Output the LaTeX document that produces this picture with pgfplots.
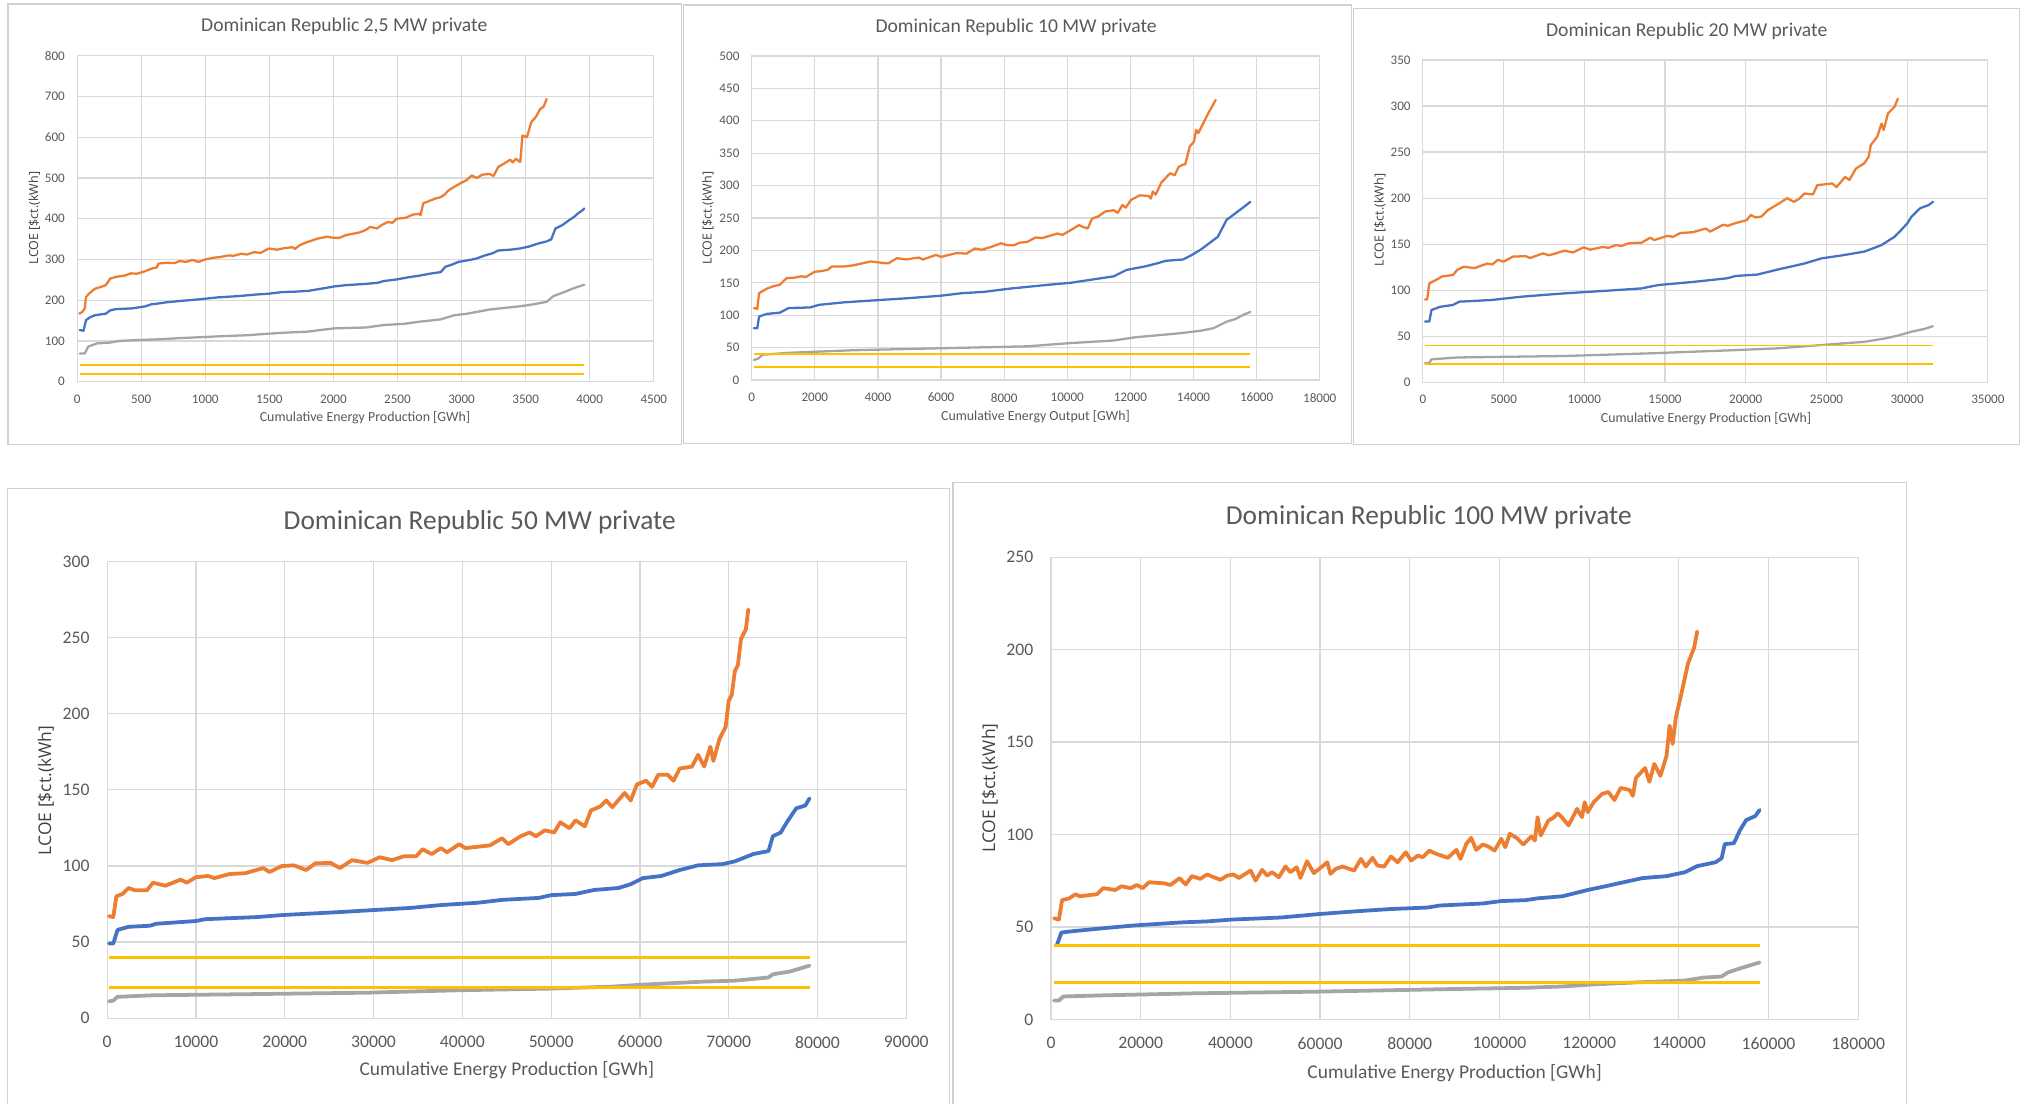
\documentclass[border=0pt]{standalone}
\usepackage{fontspec}
\setmainfont{Carlito}
\newfontfamily\ylabfont{Open Sans}
\usepackage{pgfplots}
\pgfplotsset{compat=1.18}
\definecolor{cOr}{HTML}{ED7D31}
\definecolor{cBl}{HTML}{4472C4}
\definecolor{cGr}{HTML}{A5A5A5}
\definecolor{cGo}{HTML}{FFC000}
\definecolor{gridc}{HTML}{D9D9D9}
\definecolor{framec}{HTML}{D0D0D0}
\definecolor{txtc}{HTML}{595959}
\definecolor{ylc}{HTML}{404040}
\def\U{0.65pt}
\pgfplotsset{
  drbase/.style={
    scale only axis,
    grid=major,
    major grid style={draw=gridc, line width=0.6pt},
    axis line style={draw=gridc, line width=0.6pt},
    tick style={draw=none},
    scaled ticks=false,
    /pgf/number format/assume math mode=true,
    ticklabel style={text=txtc},
    x tick label style={/pgf/number format/fixed, /pgf/number format/1000 sep={}},
    y tick label style={/pgf/number format/fixed, /pgf/number format/1000 sep={}},
    every axis plot/.append style={line join=round, line cap=round, mark=none},
  },
  drsmall/.style={drbase,
    ticklabel style={font=\fontsize{6.6}{7}\selectfont},
    yticklabel style={inner sep=0pt, xshift=-6pt},
    xticklabel style={inner sep=0pt, yshift=-6.4pt},
    every axis plot/.append style={line width=1.15pt},
    gold/.style={cGo, line width=1.0pt, line cap=butt},
  },
  drbig/.style={drbase,
    ticklabel style={font=\fontsize{8.9}{10}\selectfont},
    yticklabel style={inner sep=0pt, xshift=-8.7pt},
    xticklabel style={inner sep=0pt, yshift=-8.8pt},
    every axis plot/.append style={line width=1.9pt},
    gold/.style={cGo, line width=1.5pt, line cap=butt},
  },
}
\begin{document}
\begin{tikzpicture}
\path[use as bounding box] (0,0) rectangle ({1568*\U},{856*\U});
% frames
\draw[framec, line width=0.6pt] ({6.2*\U},{(856-344.5)*\U}) rectangle ({528.7*\U},{(856-3.1)*\U});
\draw[framec, line width=0.6pt] ({530*\U},{(856-343.7)*\U}) rectangle ({1048*\U},{(856-3.9)*\U});
\draw[framec, line width=0.6pt] ({1049.6*\U},{(856-344.5)*\U}) rectangle ({1566*\U},{(856-6.5)*\U});
\draw[framec, line width=0.6pt] ({5.7*\U},{-10*\U}) rectangle ({736*\U},{(856-379)*\U});
\draw[framec, line width=0.6pt] ({739*\U},{-10*\U}) rectangle ({1478.5*\U},{(856-374)*\U});

% ---------- Panel 1 ----------
\begin{axis}[drsmall, at={({59.8*\U},{(856-296)*\U})}, anchor=south west,
  width={(507-59.8)*\U}, height={(296-43.2)*\U},
  xmin=0, xmax=4500, ymin=0, ymax=800,
  xtick={0,500,...,4500}, ytick={0,100,...,800}]
\addplot[cOr] coordinates {(17,167)(40,171)(60,180)(69,208)(100,218)(138,228)(180,232)(224,237)(258,253)(300,257)(378,261)(420,266)(464,265)(520,270)(585,278)(620,280)(636,290)(700,292)(760,291)(800,296)(850,294)(900,299)(946,294)(1000,300)(1060,304)(1118,306)(1180,310)(1220,309)(1280,314)(1325,312)(1380,318)(1430,316)(1497,327)(1560,324)(1620,328)(1680,330)(1700,326)(1737,335)(1790,342)(1875,351)(1950,356)(2000,353)(2047,353)(2100,360)(2150,363)(2200,366)(2250,372)(2288,380)(2340,376)(2380,385)(2425,392)(2460,390)(2494,400)(2560,402)(2620,410)(2666,412)(2680,409)(2701,438)(2760,445)(2800,450)(2838,453)(2870,460)(2900,470)(2941,478)(2980,485)(3010,490)(3040,495)(3079,506)(3120,500)(3160,508)(3217,510)(3250,505)(3286,527)(3330,535)(3380,545)(3400,538)(3423,547)(3458,539)(3475,604)(3510,600)(3544,637)(3580,650)(3613,669)(3640,675)(3664,694)};
\addplot[cBl] coordinates {(20,127)(50,125)(69,151)(100,158)(138,163)(180,165)(224,167)(258,175)(300,178)(430,180)(533,185)(580,190)(636,192)(700,195)(800,198)(946,202)(1100,207)(1256,210)(1400,214)(1497,216)(1600,220)(1700,221)(1806,223)(1900,228)(2012,234)(2100,237)(2253,240)(2350,243)(2391,247)(2494,251)(2580,256)(2666,260)(2750,265)(2838,269)(2873,282)(2930,288)(2976,294)(3050,298)(3114,302)(3183,310)(3240,315)(3286,322)(3380,324)(3458,327)(3530,332)(3596,339)(3660,344)(3699,349)(3733,376)(3785,384)(3837,396)(3880,405)(3905,412)(3940,420)(3957,425)};
\addplot[cGr] coordinates {(20,69)(60,69)(86,86)(155,94)(258,96)(327,100)(450,102)(636,104)(800,107)(946,109)(1150,112)(1325,114)(1500,118)(1600,120)(1806,123)(1900,127)(2012,131)(2253,133)(2391,139)(2550,142)(2666,147)(2838,153)(2941,163)(3045,167)(3130,172)(3217,177)(3300,180)(3423,184)(3500,187)(3561,190)(3664,196)(3716,210)(3802,220)(3871,229)(3957,238)};
\addplot[gold] coordinates {(20,40)(3957,40)};
\addplot[gold] coordinates {(20,20)(3957,20)};
\end{axis}

% ---------- Panel 2 ----------
\begin{axis}[drsmall, at={({582.9*\U},{(856-294.7)*\U})}, anchor=south west,
  width={(1023.4-582.9)*\U}, height={(294.7-43.4)*\U},
  xmin=0, xmax=18000, ymin=0, ymax=500,
  xtick={0,2000,...,18000}, ytick={0,50,...,500}]
\addplot[cOr] coordinates {(69,111)(179,110)(234,134)(481,141)(700,145)(893,147)(1099,157)(1350,158)(1580,160)(1717,159)(1992,167)(2200,168)(2405,170)(2542,175)(2900,175)(3229,177)(3500,180)(3779,183)(4100,181)(4328,180)(4603,188)(4900,186)(5290,189)(5427,186)(5840,193)(6000,190)(6252,193)(6500,196)(6802,195)(7076,203)(7300,201)(7626,206)(7901,211)(8100,208)(8313,208)(8500,212)(8725,213)(9000,220)(9200,219)(9412,222)(9687,226)(9850,224)(10099,231)(10374,239)(10500,236)(10649,234)(10786,249)(11000,253)(11198,260)(11473,262)(11600,258)(11748,270)(11850,266)(12023,278)(12298,285)(12573,284)(12650,280)(12710,291)(12800,286)(12985,305)(13260,319)(13400,316)(13535,329)(13650,332)(13740,333)(13878,360)(14015,368)(14084,386)(14153,381)(14359,401)(14496,414)(14702,432)};
\addplot[cBl] coordinates {(69,80)(179,80)(234,98)(481,102)(893,104)(1168,111)(1855,112)(2130,116)(2954,120)(3916,123)(4878,126)(5977,130)(6664,134)(7351,136)(8176,141)(9412,147)(10099,150)(10649,154)(11473,160)(11885,170)(12435,175)(12847,180)(13122,184)(13672,186)(13947,193)(14222,201)(14496,211)(14771,221)(15046,247)(15321,257)(15595,267)(15801,275)};
\addplot[cGr] coordinates {(69,31)(206,33)(343,39)(1168,42)(3229,46)(5977,49)(8725,52)(10099,57)(10786,59)(11473,61)(12160,66)(12847,69)(13535,72)(14222,76)(14634,80)(15046,90)(15321,94)(15595,101)(15801,105)};
\addplot[gold] coordinates {(69,40)(15801,40)};
\addplot[gold] coordinates {(69,20)(15801,20)};
\end{axis}

% ---------- Panel 3 ----------
\begin{axis}[drsmall, at={({1103.4*\U},{(856-296.5)*\U})}, anchor=south west,
  width={(1541.5-1103.4)*\U}, height={(296.5-46.5)*\U},
  xmin=0, xmax=35000, ymin=0, ymax=350,
  xtick={0,5000,...,35000}, ytick={0,50,...,350}]
\addplot[cOr] coordinates {(133,90)(265,90)(398,107.5)(797,111)(1195,115)(1859,116.5)(2124,122)(2523,125.6)(3187,124)(3983,129)(4300,128)(4647,133)(5000,131)(5577,136.5)(6373,137)(6639,135)(7436,140)(7800,138)(8232,140)(8763,143)(9294,141)(9958,146.6)(10357,144)(11153,147)(11500,146)(11950,149)(12300,148)(12747,151)(13543,151.6)(14074,157)(14340,154.5)(15137,159)(15500,158)(15933,162)(16730,163)(17527,167)(17792,163.6)(18589,171)(18900,170)(19386,173)(20050,176)(20315,181.7)(20600,179)(20979,180)(21377,187)(22041,194)(22572,200)(22970,196)(23300,199)(23634,205)(24165,204)(24431,214)(25361,216)(25626,212)(26157,223)(26423,219.7)(26821,232)(27352,238)(27618,245)(27751,257.7)(28149,266.7)(28415,281)(28548,274)(28813,292)(29212,299)(29424,308)};
\addplot[cBl] coordinates {(133,66)(398,66)(531,78.5)(1062,82)(1859,84)(2257,87.6)(4249,89.4)(6108,93)(8763,96.6)(11419,99.5)(13543,102)(14605,105.7)(16730,109)(18854,113)(19386,115.5)(20714,117)(22041,122.7)(23634,129)(24696,134.6)(26024,138)(27352,142)(28415,149)(29212,158)(29610,165)(30009,172.6)(30274,180)(30805,189)(31336,192.5)(31601,196)};
\addplot[cGr] coordinates {(133,20.6)(398,21)(531,25)(2124,27)(8763,28.6)(14074,31.5)(19386,35)(22041,37)(24696,40.5)(27352,44)(28680,47.8)(29477,51)(30274,55)(31070,58)(31601,61)};
\addplot[gold] coordinates {(133,40)(31601,40)};
\addplot[gold] coordinates {(133,20)(31601,20)};
\end{axis}

% ---------- Panel 4 ----------
\begin{axis}[drbig, at={({83.1*\U},{(856-789.5)*\U})}, anchor=south west,
  width={(702.8-83.1)*\U}, height={(789.5-435.5)*\U},
  xmin=0, xmax=90000, ymin=0, ymax=300,
  xtick={0,10000,...,90000}, ytick={0,50,...,300}]
\addplot[cOr] coordinates {(207,67)(690,66.4)(1034,80)(1724,81.6)(2414,85.5)(3103,84)(4483,84)(5172,89)(6552,87)(8276,91)(8966,89)(10000,92.6)(11379,93.4)(12069,92)(13793,94.7)(15517,95.2)(17586,98.6)(18276,96)(19655,99.9)(21034,100.4)(22414,97.3)(23448,101.7)(25172,102)(26207,98.6)(27586,103.8)(29310,102)(30690,105.7)(32069,103.8)(33448,106.4)(34828,106.4)(35517,111)(36552,107.8)(37586,111.7)(38276,109)(39655,114.3)(40345,111.7)(43103,113.5)(44483,118.2)(45172,114.3)(46552,119.5)(47586,122)(48276,119.5)(49310,123.4)(50345,122)(51034,128.7)(52069,124.8)(52759,130)(53793,126)(54483,136.5)(55517,139)(56207,143)(56897,138.6)(58276,148)(58966,143)(59655,153.5)(60690,156)(61379,152)(62069,160)(63103,160)(63793,156)(64483,164)(65862,165.3)(66552,173)(67241,165.3)(67931,178.4)(68276,169)(68966,183.6)(69655,191.4)(70000,208.4)(70345,212.4)(70690,228)(71034,232)(71379,249)(71931,255.5)(72207,268.6)};
\addplot[cBl] coordinates {(207,49)(690,49)(1172,58)(2414,60)(4828,60.7)(5517,62)(10000,63.8)(11034,65)(16897,66.4)(19655,67.7)(26552,69.8)(30000,71)(34138,72.4)(37586,74.3)(41724,75.8)(44483,77.7)(48621,79)(50000,80.8)(52759,81.6)(54828,84.2)(57586,85.5)(58966,88)(60345,92)(62414,93.4)(64483,97.3)(66552,100.4)(69310,101.2)(70690,103)(72759,107.8)(74483,109.8)(74966,119.5)(75862,122)(76552,128.7)(77586,137.8)(78621,139.7)(79103,144.4)};
\addplot[cGr] coordinates {(207,11)(690,11.5)(1172,14)(5172,15)(15517,15.7)(29310,16.7)(39655,18.3)(50000,19.4)(56897,20.7)(60345,22)(67241,24)(70690,24.6)(74483,26.7)(74966,28.8)(76897,30.6)(79103,34.5)};
\addplot[gold] coordinates {(207,40)(79103,40)};
\addplot[gold] coordinates {(207,20)(79103,20)};
\end{axis}

% ---------- Panel 5 ----------
\begin{axis}[drbig, at={({815*\U},{(856-790.5)*\U})}, anchor=south west,
  width={(1441-815)*\U}, height={(790.5-432.1)*\U},
  xmin=0, xmax=180000, ymin=0, ymax=250,
  xtick={0,20000,40000,60000,80000,100000,120000,140000,160000,180000},
  xticklabels={0,20000,40000,60000,80000,100000,120000,140000,160000,180000},
  ytick={0,50,...,250}]
\addplot[cOr] coordinates {(683,54.7)(1775,54)(2458,64.5)(4097,65.5)(5463,67.7)(6419,66.6)(10243,67.7)(11608,71)(14340,70)(15706,72)(17754,71)(19120,72.7)(20486,71)(21851,74.2)(25266,73.6)(26631,72.7)(28680,76.4)(30046,73)(31411,77.5)(33300,76)(34800,78.4)(36300,76.9)(37800,75.5)(39300,77.8)(40700,78.4)(41900,76.5)(44500,80.5)(45600,75.1)(47100,80.9)(48200,77.8)(49300,79.6)(50800,76.9)(52300,82.7)(53400,79.6)(54800,82.3)(55600,76.5)(57100,85.6)(58600,79.1)(60100,82)(61600,85)(62300,78.7)(63500,81.4)(65000,82.7)(67600,80.5)(69100,86.8)(70200,82.7)(71700,87.4)(72800,83.2)(74300,82.7)(75800,88.1)(77300,85)(79100,90.4)(80300,85.9)(81800,88.6)(82900,87.7)(84400,91.3)(85500,89.9)(88500,87.4)(90400,91.7)(91300,86.8)(92600,94.9)(93700,98.2)(94800,91.7)(96300,94.6)(97500,93.5)(98900,91.3)(100400,97.7)(101300,93.1)(102300,100.4)(103800,98.2)(105300,94.6)(107100,98.9)(107900,96.8)(108500,109.4)(109200,99.5)(110900,107.6)(112000,109)(113000,111.5)(113900,109.4)(115400,104.9)(117300,113.9)(118400,109.4)(119000,117.5)(119700,112.1)(121000,117.5)(122914,122)(124279,123)(125645,118.7)(127011,125.2)(129059,124.1)(129742,120.9)(130425,130.6)(132474,136)(133430,128.5)(134522,138.2)(135888,131.7)(137254,142.6)(137937,158.9)(138620,149)(139302,163)(140668,177.3)(142034,192.5)(143399,201)(144082,209.8)};
\addplot[cBl] coordinates {(1366,40.6)(2322,47)(4780,47.7)(11608,49.3)(18437,50.8)(29362,52.5)(34825,53)(40288,54)(51214,55.1)(59408,56.9)(67603,58.4)(75797,59.7)(83991,60.5)(86722,61.6)(96282,62.7)(100379,64)(105842,64.5)(108573,65.5)(114036,66.6)(119499,69.9)(123596,72)(127694,74.2)(131791,76.4)(137254,77.5)(141351,79.6)(144082,82.9)(148179,85)(149545,87.2)(150228,94.8)(152276,95.3)(153642,102.4)(155008,107.8)(157056,110)(158012,113.3)};
\addplot[cGr] coordinates {(683,10.2)(1775,10.2)(2731,12.4)(11608,13)(32094,14.1)(59408,15)(86722,16.3)(105842,17.1)(114036,17.8)(120865,18.9)(130425,20)(141351,21)(145448,22.6)(149545,23.2)(150911,25.4)(153642,27.6)(158012,30.8)};
\addplot[gold] coordinates {(683,40)(158012,40)};
\addplot[gold] coordinates {(683,20)(158012,20)};
\end{axis}

% ---------- titles and labels ----------
\node[text=txtc, font=\fontsize{9.9}{11}\selectfont] at ({267*\U},{(856-20.7)*\U}) {Dominican Republic 2,5 MW private};
\node[text=txtc, font=\fontsize{9.9}{11}\selectfont] at ({788*\U},{(856-21.5)*\U}) {Dominican Republic 10 MW private};
\node[text=txtc, font=\fontsize{9.9}{11}\selectfont] at ({1308*\U},{(856-24.6)*\U}) {Dominican Republic 20 MW private};
\node[text=txtc, font=\fontsize{13.8}{15}\selectfont] at ({372*\U},{(856-404.7)*\U}) {Dominican Republic 50 MW private};
\node[text=txtc, font=\fontsize{13.8}{15}\selectfont] at ({1108*\U},{(856-401)*\U}) {Dominican Republic 100 MW private};

\node[text=txtc, font=\fontsize{7}{8}\selectfont] at ({283*\U},{(856-324)*\U}) {Cumulative Energy Production [GWh]};
\node[text=txtc, font=\fontsize{7}{8}\selectfont] at ({803*\U},{(856-323)*\U}) {Cumulative Energy Output [GWh]};
\node[text=txtc, font=\fontsize{7}{8}\selectfont] at ({1323*\U},{(856-324.4)*\U}) {Cumulative Energy Production [GWh]};
\node[text=txtc, font=\fontsize{9.8}{11}\selectfont] at ({393*\U},{(856-829.6)*\U}) {Cumulative Energy Production [GWh]};
\node[text=txtc, font=\fontsize{9.8}{11}\selectfont] at ({1128*\U},{(856-831.9)*\U}) {Cumulative Energy Production [GWh]};

\node[text=ylc, rotate=90, font=\ylabfont\fontsize{6.3}{7}\selectfont] at ({26.6*\U},{(856-169)*\U}) {LCOE [\$ct.(kWh]};
\node[text=ylc, rotate=90, font=\ylabfont\fontsize{6.3}{7}\selectfont] at ({549*\U},{(856-169)*\U}) {LCOE [\$ct.(kWh]};
\node[text=ylc, rotate=90, font=\ylabfont\fontsize{6.3}{7}\selectfont] at ({1070*\U},{(856-170.6)*\U}) {LCOE [\$ct.(kWh]};
\node[text=ylc, rotate=90, font=\ylabfont\fontsize{8.8}{10}\selectfont] at ({35.6*\U},{(856-613)*\U}) {LCOE [\$ct.(kWh]};
\node[text=ylc, rotate=90, font=\ylabfont\fontsize{8.8}{10}\selectfont] at ({767.6*\U},{(856-611)*\U}) {LCOE [\$ct.(kWh]};
\end{tikzpicture}
\end{document}
